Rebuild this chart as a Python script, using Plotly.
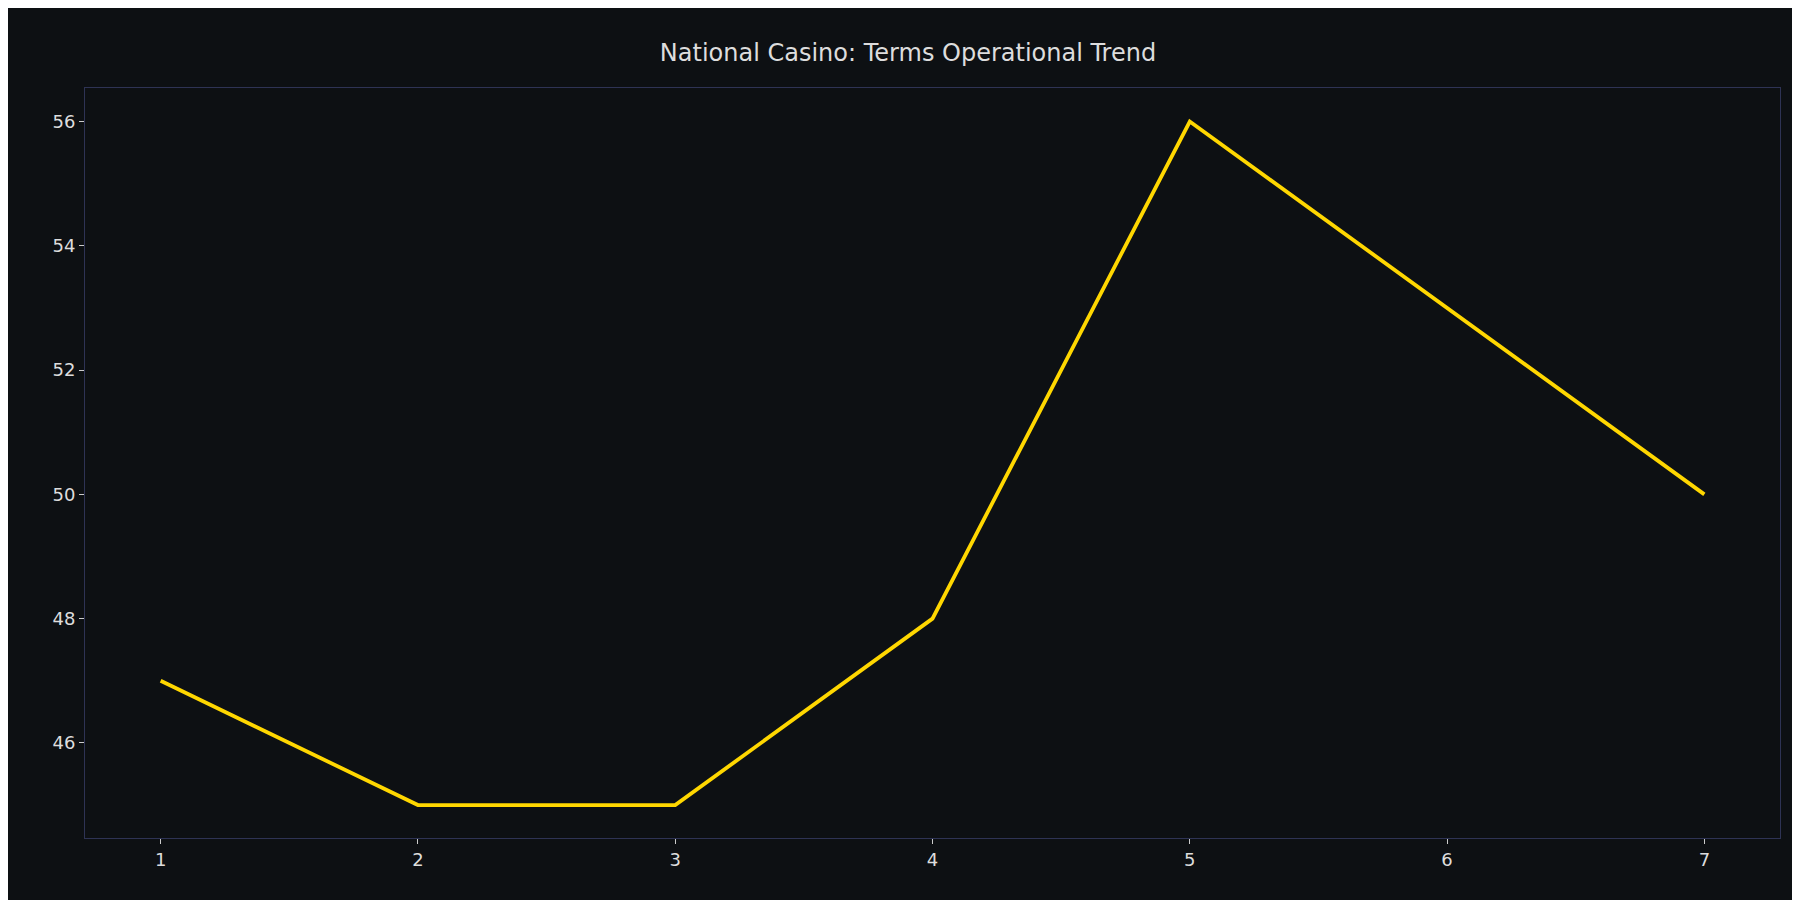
import plotly.graph_objects as go

periods = [1, 2, 3, 4, 5, 6, 7]
values = [47, 45, 45, 48, 56, 53, 50]

fig = go.Figure()
fig.add_trace(go.Scatter(x=periods, y=values, mode="lines",
                         line=dict(color="#FFD700", width=3.8)))

axis_common = dict(showgrid=False, zeroline=False, showline=True, mirror=True,
                   linecolor="#2e3354", linewidth=1, ticks="outside", ticklen=5,
                   tickcolor="#cccccc", tickfont=dict(color="#dddddd", size=18))

fig.update_layout(
    width=1800, height=900,
    paper_bgcolor="#0d1013", plot_bgcolor="#0d1013",
    font=dict(family="DejaVu Sans"),
    title=dict(text="National Casino: Terms Operational Trend", x=0.5, y=0.96,
               xanchor="center", font=dict(color="#dddddd", size=24)),
    margin=dict(l=77, r=28, t=80, b=70),
    showlegend=False,
    xaxis=dict(range=[0.706, 7.294], tickvals=periods, **axis_common),
    yaxis=dict(range=[44.47, 56.54], tickvals=[46, 48, 50, 52, 54, 56], **axis_common),
)

fig.write_html("out.html")
